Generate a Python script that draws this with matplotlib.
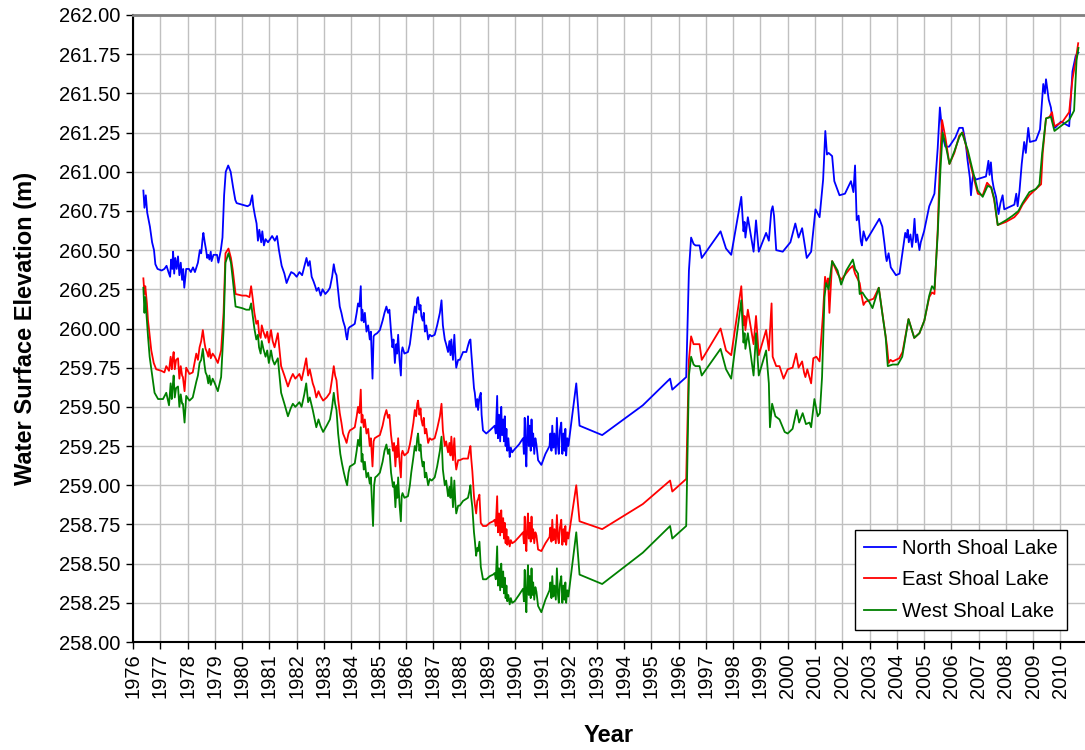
import matplotlib
matplotlib.use("Agg")
import matplotlib.pyplot as plt
from matplotlib.ticker import FixedLocator, FormatStrFormatter

plt.rcParams['font.family'] = ['Liberation Sans', 'DejaVu Sans']

series_names = ["North Shoal Lake", "East Shoal Lake", "West Shoal Lake"]
series_colors = ["#0000FF", "#FF0000", "#008000"]

north = [
(1976.38, 260.88), (1976.42, 260.77), (1976.47, 260.85), (1976.52, 260.74), (1976.62, 260.65), (1976.70, 260.55), (1976.77, 260.50), (1976.82, 260.41), (1976.90, 260.38), (1977.05, 260.37), (1977.15, 260.38), (1977.23, 260.40), (1977.30, 260.36), (1977.36, 260.33), (1977.40, 260.44), (1977.44, 260.38), (1977.47, 260.49), (1977.51, 260.35), (1977.55, 260.45), (1977.60, 260.38), (1977.65, 260.46), (1977.70, 260.34), (1977.75, 260.42), (1977.80, 260.31), (1977.84, 260.38), (1977.88, 260.26), (1977.95, 260.38), (1978.05, 260.38), (1978.12, 260.36), (1978.20, 260.39), (1978.27, 260.36), (1978.38, 260.42), (1978.45, 260.50), (1978.50, 260.48), (1978.55, 260.57), (1978.58, 260.61), (1978.63, 260.55), (1978.68, 260.50), (1978.72, 260.45), (1978.76, 260.47), (1978.80, 260.44), (1978.85, 260.49), (1978.88, 260.43), (1978.95, 260.47), (1979.08, 260.47), (1979.13, 260.42), (1979.22, 260.50), (1979.28, 260.58), (1979.34, 260.85), (1979.40, 261.00), (1979.49, 261.04), (1979.58, 261.00), (1979.67, 260.90), (1979.75, 260.82), (1979.80, 260.80), (1980.00, 260.79), (1980.20, 260.78), (1980.29, 260.79), (1980.37, 260.85), (1980.41, 260.78), (1980.47, 260.72), (1980.53, 260.67), (1980.58, 260.56), (1980.63, 260.63), (1980.70, 260.55), (1980.74, 260.62), (1980.80, 260.53), (1980.86, 260.57), (1980.95, 260.55), (1981.10, 260.59), (1981.20, 260.56), (1981.28, 260.59), (1981.35, 260.50), (1981.45, 260.40), (1981.55, 260.35), (1981.63, 260.29), (1981.72, 260.33), (1981.80, 260.36), (1981.90, 260.35), (1982.00, 260.33), (1982.10, 260.36), (1982.20, 260.34), (1982.30, 260.41), (1982.36, 260.45), (1982.42, 260.40), (1982.48, 260.43), (1982.55, 260.33), (1982.62, 260.30), (1982.68, 260.27), (1982.73, 260.24), (1982.80, 260.26), (1982.88, 260.21), (1982.95, 260.25), (1983.05, 260.22), (1983.15, 260.24), (1983.22, 260.26), (1983.30, 260.33), (1983.36, 260.41), (1983.41, 260.36), (1983.46, 260.34), (1983.52, 260.24), (1983.58, 260.14), (1983.64, 260.10), (1983.70, 260.05), (1983.77, 260.01), (1983.82, 259.95), (1983.85, 259.93), (1983.90, 260.00), (1983.95, 260.01), (1984.05, 260.02), (1984.13, 260.03), (1984.20, 260.10), (1984.25, 260.16), (1984.30, 260.14), (1984.35, 260.27), (1984.38, 260.05), (1984.41, 260.12), (1984.46, 260.04), (1984.50, 260.10), (1984.56, 259.98), (1984.62, 260.02), (1984.68, 259.93), (1984.72, 259.98), (1984.78, 259.68), (1984.82, 259.95), (1984.86, 259.96), (1984.95, 259.97), (1985.05, 259.99), (1985.15, 260.05), (1985.22, 260.10), (1985.29, 260.14), (1985.35, 260.10), (1985.40, 260.12), (1985.46, 259.98), (1985.51, 259.88), (1985.55, 259.93), (1985.60, 259.78), (1985.65, 259.90), (1985.68, 259.84), (1985.72, 259.96), (1985.77, 259.80), (1985.82, 259.70), (1985.85, 259.85), (1985.88, 259.88), (1985.95, 259.84), (1986.08, 259.85), (1986.15, 259.90), (1986.22, 260.00), (1986.28, 260.08), (1986.33, 260.14), (1986.38, 260.10), (1986.42, 260.19), (1986.45, 260.20), (1986.50, 260.12), (1986.54, 260.15), (1986.57, 260.08), (1986.62, 260.05), (1986.66, 260.10), (1986.70, 259.98), (1986.75, 260.02), (1986.80, 259.96), (1986.82, 259.93), (1986.88, 259.96), (1986.95, 259.95), (1987.06, 259.96), (1987.15, 260.02), (1987.25, 260.10), (1987.31, 260.18), (1987.36, 260.02), (1987.43, 259.93), (1987.48, 259.90), (1987.55, 259.85), (1987.60, 259.92), (1987.64, 259.83), (1987.67, 259.93), (1987.73, 259.80), (1987.78, 259.96), (1987.82, 259.82), (1987.85, 259.75), (1987.92, 259.80), (1987.98, 259.80), (1988.10, 259.85), (1988.22, 259.85), (1988.28, 259.89), (1988.33, 259.92), (1988.37, 259.93), (1988.40, 259.85), (1988.44, 259.76), (1988.50, 259.62), (1988.53, 259.59), (1988.58, 259.50), (1988.62, 259.55), (1988.65, 259.48), (1988.70, 259.56), (1988.75, 259.59), (1988.78, 259.45), (1988.83, 259.35), (1988.95, 259.33), (1989.08, 259.35), (1989.20, 259.37), (1989.26, 259.38), (1989.30, 259.33), (1989.35, 259.57), (1989.38, 259.30), (1989.42, 259.45), (1989.46, 259.28), (1989.50, 259.50), (1989.53, 259.32), (1989.57, 259.42), (1989.60, 259.28), (1989.63, 259.44), (1989.66, 259.25), (1989.69, 259.36), (1989.72, 259.22), (1989.76, 259.30), (1989.81, 259.18), (1989.85, 259.24), (1989.90, 259.21), (1989.99, 259.23), (1990.15, 259.26), (1990.30, 259.30), (1990.33, 259.20), (1990.36, 259.43), (1990.39, 259.22), (1990.42, 259.12), (1990.45, 259.35), (1990.48, 259.44), (1990.51, 259.25), (1990.54, 259.38), (1990.58, 259.22), (1990.61, 259.42), (1990.64, 259.25), (1990.67, 259.33), (1990.71, 259.20), (1990.75, 259.30), (1990.79, 259.26), (1990.85, 259.16), (1990.97, 259.13), (1991.12, 259.20), (1991.27, 259.25), (1991.30, 259.33), (1991.34, 259.22), (1991.37, 259.38), (1991.41, 259.24), (1991.45, 259.33), (1991.50, 259.20), (1991.54, 259.43), (1991.58, 259.25), (1991.61, 259.20), (1991.65, 259.35), (1991.70, 259.40), (1991.74, 259.20), (1991.78, 259.33), (1991.82, 259.22), (1991.85, 259.36), (1991.88, 259.19), (1991.92, 259.30), (1991.96, 259.25), (1992.25, 259.65), (1992.37, 259.38), (1993.20, 259.32), (1994.69, 259.51), (1995.69, 259.68), (1995.77, 259.61), (1996.28, 259.69), (1996.38, 260.37), (1996.46, 260.58), (1996.55, 260.54), (1996.62, 260.53), (1996.77, 260.53), (1996.85, 260.45), (1997.54, 260.62), (1997.74, 260.51), (1997.93, 260.47), (1998.30, 260.84), (1998.38, 260.62), (1998.42, 260.68), (1998.45, 260.58), (1998.54, 260.71), (1998.75, 260.49), (1998.84, 260.69), (1998.94, 260.49), (1999.21, 260.61), (1999.31, 260.56), (1999.40, 260.75), (1999.45, 260.78), (1999.50, 260.72), (1999.58, 260.50), (1999.82, 260.49), (2000.10, 260.55), (2000.28, 260.67), (2000.40, 260.58), (2000.53, 260.64), (2000.70, 260.45), (2000.86, 260.49), (2001.02, 260.76), (2001.17, 260.71), (2001.30, 260.95), (2001.38, 261.26), (2001.44, 261.11), (2001.50, 261.12), (2001.63, 261.10), (2001.71, 260.94), (2001.90, 260.85), (2002.10, 260.86), (2002.32, 260.94), (2002.41, 260.87), (2002.47, 261.04), (2002.53, 260.69), (2002.60, 260.72), (2002.68, 260.56), (2002.72, 260.53), (2002.78, 260.62), (2002.88, 260.56), (2003.36, 260.70), (2003.47, 260.65), (2003.55, 260.54), (2003.60, 260.46), (2003.63, 260.43), (2003.70, 260.48), (2003.78, 260.39), (2003.97, 260.34), (2004.10, 260.35), (2004.31, 260.61), (2004.36, 260.58), (2004.40, 260.63), (2004.44, 260.55), (2004.50, 260.60), (2004.56, 260.52), (2004.60, 260.58), (2004.65, 260.70), (2004.70, 260.55), (2004.75, 260.60), (2004.83, 260.50), (2004.88, 260.55), (2005.00, 260.62), (2005.19, 260.78), (2005.38, 260.86), (2005.50, 261.15), (2005.58, 261.41), (2005.68, 261.23), (2005.78, 261.16), (2005.92, 261.16), (2006.15, 261.22), (2006.29, 261.28), (2006.42, 261.28), (2006.53, 261.18), (2006.59, 261.08), (2006.68, 260.96), (2006.72, 260.85), (2006.76, 260.93), (2006.80, 260.98), (2006.90, 260.95), (2007.27, 260.97), (2007.36, 261.07), (2007.40, 260.98), (2007.45, 261.06), (2007.50, 260.95), (2007.55, 260.90), (2007.64, 260.84), (2007.73, 260.73), (2007.80, 260.80), (2007.88, 260.85), (2007.94, 260.76), (2008.31, 260.79), (2008.38, 260.86), (2008.43, 260.78), (2008.50, 260.88), (2008.58, 261.05), (2008.67, 261.19), (2008.73, 261.12), (2008.82, 261.28), (2008.88, 261.19), (2009.10, 261.20), (2009.25, 261.27), (2009.37, 261.56), (2009.43, 261.50), (2009.47, 261.59), (2009.57, 261.46), (2009.65, 261.41), (2009.71, 261.33), (2009.80, 261.28), (2010.02, 261.32), (2010.32, 261.29), (2010.44, 261.64), (2010.56, 261.74), (2010.66, 261.76),
]

east = [
(1976.38, 260.32), (1976.42, 260.22), (1976.45, 260.27), (1976.51, 260.16), (1976.55, 260.05), (1976.59, 259.99), (1976.67, 259.86), (1976.76, 259.78), (1976.85, 259.74), (1977.04, 259.73), (1977.15, 259.72), (1977.22, 259.76), (1977.32, 259.73), (1977.38, 259.82), (1977.42, 259.74), (1977.45, 259.80), (1977.49, 259.85), (1977.53, 259.74), (1977.58, 259.80), (1977.65, 259.81), (1977.70, 259.68), (1977.75, 259.76), (1977.80, 259.70), (1977.83, 259.69), (1977.89, 259.60), (1977.95, 259.75), (1978.07, 259.71), (1978.19, 259.72), (1978.32, 259.84), (1978.38, 259.80), (1978.44, 259.88), (1978.50, 259.92), (1978.56, 259.99), (1978.62, 259.91), (1978.66, 259.87), (1978.71, 259.85), (1978.76, 259.82), (1978.80, 259.87), (1978.85, 259.81), (1978.92, 259.84), (1979.00, 259.82), (1979.11, 259.78), (1979.23, 259.86), (1979.32, 260.10), (1979.39, 260.48), (1979.50, 260.51), (1979.59, 260.45), (1979.66, 260.37), (1979.76, 260.22), (1980.00, 260.21), (1980.15, 260.21), (1980.27, 260.20), (1980.33, 260.27), (1980.39, 260.19), (1980.45, 260.10), (1980.52, 260.03), (1980.58, 260.05), (1980.62, 259.97), (1980.68, 259.94), (1980.72, 260.02), (1980.78, 259.98), (1980.86, 259.94), (1980.92, 259.98), (1980.98, 259.91), (1981.06, 259.99), (1981.12, 259.92), (1981.19, 259.88), (1981.31, 259.97), (1981.43, 259.76), (1981.55, 259.70), (1981.68, 259.63), (1981.78, 259.68), (1981.86, 259.71), (1981.95, 259.68), (1982.10, 259.71), (1982.18, 259.67), (1982.28, 259.75), (1982.35, 259.81), (1982.42, 259.70), (1982.48, 259.74), (1982.59, 259.65), (1982.65, 259.62), (1982.72, 259.56), (1982.80, 259.60), (1982.87, 259.57), (1982.97, 259.54), (1983.10, 259.56), (1983.22, 259.59), (1983.30, 259.68), (1983.36, 259.76), (1983.41, 259.70), (1983.46, 259.67), (1983.52, 259.55), (1983.58, 259.46), (1983.64, 259.40), (1983.70, 259.33), (1983.77, 259.30), (1983.83, 259.27), (1983.90, 259.33), (1983.95, 259.35), (1984.05, 259.36), (1984.13, 259.37), (1984.20, 259.44), (1984.25, 259.50), (1984.30, 259.46), (1984.35, 259.61), (1984.38, 259.40), (1984.41, 259.45), (1984.46, 259.37), (1984.50, 259.42), (1984.56, 259.33), (1984.62, 259.36), (1984.68, 259.25), (1984.72, 259.30), (1984.78, 259.12), (1984.82, 259.28), (1984.86, 259.30), (1984.95, 259.31), (1985.05, 259.32), (1985.15, 259.38), (1985.22, 259.44), (1985.29, 259.48), (1985.35, 259.43), (1985.40, 259.45), (1985.46, 259.32), (1985.53, 259.22), (1985.57, 259.27), (1985.62, 259.12), (1985.66, 259.25), (1985.69, 259.18), (1985.72, 259.30), (1985.77, 259.15), (1985.82, 259.05), (1985.85, 259.20), (1985.88, 259.22), (1985.95, 259.19), (1986.08, 259.21), (1986.15, 259.26), (1986.20, 259.31), (1986.28, 259.40), (1986.33, 259.48), (1986.38, 259.44), (1986.42, 259.52), (1986.45, 259.54), (1986.50, 259.45), (1986.54, 259.49), (1986.57, 259.42), (1986.62, 259.38), (1986.66, 259.43), (1986.70, 259.33), (1986.75, 259.36), (1986.82, 259.27), (1986.88, 259.30), (1986.95, 259.29), (1987.06, 259.30), (1987.15, 259.36), (1987.25, 259.44), (1987.31, 259.52), (1987.36, 259.35), (1987.43, 259.25), (1987.48, 259.28), (1987.55, 259.21), (1987.60, 259.27), (1987.64, 259.19), (1987.67, 259.31), (1987.73, 259.16), (1987.78, 259.30), (1987.82, 259.15), (1987.85, 259.10), (1987.92, 259.16), (1987.98, 259.16), (1988.10, 259.17), (1988.28, 259.17), (1988.33, 259.22), (1988.37, 259.25), (1988.40, 259.17), (1988.44, 259.09), (1988.50, 258.93), (1988.53, 258.88), (1988.58, 258.82), (1988.62, 258.90), (1988.65, 258.91), (1988.70, 258.94), (1988.75, 258.76), (1988.83, 258.74), (1988.95, 258.74), (1989.08, 258.76), (1989.20, 258.77), (1989.26, 258.78), (1989.30, 258.74), (1989.35, 258.93), (1989.38, 258.70), (1989.42, 258.82), (1989.46, 258.68), (1989.50, 258.84), (1989.53, 258.70), (1989.57, 258.79), (1989.60, 258.66), (1989.63, 258.76), (1989.66, 258.63), (1989.69, 258.72), (1989.72, 258.62), (1989.76, 258.67), (1989.81, 258.61), (1989.85, 258.65), (1989.90, 258.63), (1989.99, 258.64), (1990.15, 258.67), (1990.30, 258.70), (1990.33, 258.63), (1990.36, 258.80), (1990.39, 258.64), (1990.42, 258.58), (1990.45, 258.74), (1990.48, 258.82), (1990.51, 258.66), (1990.54, 258.76), (1990.58, 258.64), (1990.61, 258.80), (1990.64, 258.66), (1990.67, 258.72), (1990.71, 258.63), (1990.75, 258.70), (1990.79, 258.68), (1990.85, 258.59), (1990.97, 258.58), (1991.12, 258.63), (1991.27, 258.67), (1991.30, 258.73), (1991.34, 258.64), (1991.37, 258.78), (1991.41, 258.65), (1991.45, 258.72), (1991.50, 258.63), (1991.54, 258.81), (1991.58, 258.66), (1991.61, 258.63), (1991.65, 258.73), (1991.70, 258.78), (1991.74, 258.62), (1991.78, 258.72), (1991.82, 258.64), (1991.85, 258.74), (1991.88, 258.62), (1991.92, 258.70), (1991.96, 258.66), (1992.25, 259.00), (1992.37, 258.77), (1993.20, 258.72), (1994.69, 258.88), (1995.69, 259.03), (1995.77, 258.96), (1996.28, 259.04), (1996.38, 259.80), (1996.46, 259.95), (1996.55, 259.90), (1996.62, 259.90), (1996.77, 259.90), (1996.85, 259.80), (1997.54, 260.00), (1997.74, 259.86), (1997.93, 259.83), (1998.30, 260.27), (1998.38, 260.02), (1998.42, 260.08), (1998.45, 259.99), (1998.54, 260.12), (1998.75, 259.90), (1998.84, 260.08), (1998.94, 259.83), (1999.21, 259.99), (1999.31, 259.86), (1999.41, 260.16), (1999.45, 259.82), (1999.58, 259.76), (1999.70, 259.76), (1999.85, 259.68), (2000.00, 259.74), (2000.18, 259.75), (2000.31, 259.84), (2000.40, 259.75), (2000.53, 259.79), (2000.60, 259.72), (2000.65, 259.69), (2000.72, 259.74), (2000.86, 259.65), (2000.94, 259.81), (2001.05, 259.82), (2001.17, 259.79), (2001.29, 260.08), (2001.37, 260.33), (2001.44, 260.27), (2001.48, 260.32), (2001.53, 260.10), (2001.63, 260.43), (2001.83, 260.35), (2001.96, 260.31), (2002.27, 260.38), (2002.39, 260.40), (2002.47, 260.35), (2002.64, 260.29), (2002.70, 260.22), (2002.78, 260.15), (2002.85, 260.17), (2002.99, 260.18), (2003.15, 260.19), (2003.34, 260.26), (2003.47, 260.10), (2003.55, 260.00), (2003.64, 259.89), (2003.70, 259.78), (2003.77, 259.80), (2003.85, 259.79), (2004.09, 259.81), (2004.21, 259.85), (2004.43, 260.06), (2004.64, 259.94), (2004.83, 259.97), (2005.01, 260.05), (2005.19, 260.20), (2005.29, 260.23), (2005.38, 260.22), (2005.50, 260.63), (2005.57, 261.01), (2005.66, 261.33), (2005.78, 261.22), (2005.93, 261.05), (2006.11, 261.12), (2006.29, 261.23), (2006.42, 261.25), (2006.60, 261.12), (2006.78, 260.99), (2006.97, 260.86), (2007.15, 260.85), (2007.31, 260.93), (2007.46, 260.90), (2007.57, 260.82), (2007.70, 260.66), (2008.00, 260.68), (2008.31, 260.71), (2008.46, 260.74), (2008.61, 260.79), (2008.86, 260.85), (2009.10, 260.89), (2009.29, 260.92), (2009.35, 261.12), (2009.47, 261.34), (2009.60, 261.35), (2009.69, 261.38), (2009.78, 261.29), (2010.08, 261.32), (2010.32, 261.38), (2010.44, 261.59), (2010.56, 261.71), (2010.65, 261.82),
]

west = [
(1976.38, 260.26), (1976.42, 260.10), (1976.45, 260.20), (1976.49, 260.10), (1976.55, 259.95), (1976.61, 259.82), (1976.71, 259.69), (1976.79, 259.59), (1976.92, 259.55), (1977.10, 259.55), (1977.22, 259.59), (1977.32, 259.51), (1977.38, 259.65), (1977.42, 259.55), (1977.45, 259.62), (1977.49, 259.70), (1977.53, 259.56), (1977.58, 259.62), (1977.65, 259.63), (1977.70, 259.50), (1977.75, 259.58), (1977.80, 259.52), (1977.83, 259.52), (1977.89, 259.40), (1977.95, 259.57), (1978.07, 259.54), (1978.19, 259.56), (1978.32, 259.66), (1978.38, 259.70), (1978.44, 259.78), (1978.50, 259.80), (1978.56, 259.87), (1978.62, 259.77), (1978.66, 259.72), (1978.71, 259.70), (1978.76, 259.65), (1978.80, 259.70), (1978.85, 259.64), (1978.92, 259.68), (1979.00, 259.65), (1979.11, 259.60), (1979.23, 259.69), (1979.32, 259.99), (1979.39, 260.42), (1979.50, 260.48), (1979.59, 260.42), (1979.66, 260.31), (1979.76, 260.14), (1980.00, 260.13), (1980.15, 260.12), (1980.27, 260.12), (1980.33, 260.16), (1980.39, 260.08), (1980.45, 260.00), (1980.52, 259.93), (1980.58, 259.96), (1980.62, 259.88), (1980.68, 259.84), (1980.72, 259.92), (1980.78, 259.87), (1980.86, 259.82), (1980.92, 259.86), (1980.98, 259.78), (1981.06, 259.86), (1981.12, 259.80), (1981.19, 259.77), (1981.31, 259.81), (1981.43, 259.59), (1981.55, 259.52), (1981.68, 259.44), (1981.78, 259.49), (1981.86, 259.52), (1981.95, 259.50), (1982.10, 259.53), (1982.18, 259.50), (1982.28, 259.58), (1982.35, 259.65), (1982.42, 259.53), (1982.48, 259.56), (1982.59, 259.48), (1982.65, 259.43), (1982.72, 259.37), (1982.80, 259.42), (1982.87, 259.38), (1982.97, 259.34), (1983.10, 259.38), (1983.22, 259.42), (1983.30, 259.50), (1983.36, 259.59), (1983.41, 259.52), (1983.46, 259.48), (1983.52, 259.33), (1983.60, 259.20), (1983.66, 259.14), (1983.73, 259.08), (1983.80, 259.03), (1983.85, 259.00), (1983.90, 259.08), (1983.95, 259.12), (1984.05, 259.13), (1984.13, 259.14), (1984.20, 259.22), (1984.25, 259.29), (1984.30, 259.25), (1984.35, 259.37), (1984.38, 259.15), (1984.41, 259.20), (1984.46, 259.10), (1984.50, 259.15), (1984.56, 259.05), (1984.62, 259.08), (1984.68, 259.01), (1984.72, 259.05), (1984.80, 258.74), (1984.84, 259.00), (1984.88, 259.05), (1984.95, 259.06), (1985.05, 259.08), (1985.15, 259.15), (1985.22, 259.22), (1985.29, 259.26), (1985.35, 259.20), (1985.40, 259.23), (1985.46, 259.08), (1985.53, 258.99), (1985.57, 259.02), (1985.62, 258.86), (1985.66, 259.00), (1985.69, 258.92), (1985.72, 259.05), (1985.77, 258.88), (1985.82, 258.77), (1985.85, 258.93), (1985.88, 258.95), (1985.95, 258.92), (1986.08, 258.93), (1986.15, 259.00), (1986.20, 259.08), (1986.28, 259.18), (1986.33, 259.25), (1986.38, 259.22), (1986.42, 259.30), (1986.45, 259.33), (1986.50, 259.22), (1986.54, 259.26), (1986.57, 259.18), (1986.62, 259.12), (1986.66, 259.15), (1986.70, 259.05), (1986.75, 259.08), (1986.82, 259.00), (1986.88, 259.04), (1986.95, 259.03), (1987.06, 259.05), (1987.15, 259.12), (1987.25, 259.22), (1987.31, 259.31), (1987.36, 259.10), (1987.43, 259.00), (1987.48, 259.03), (1987.55, 258.93), (1987.60, 258.99), (1987.64, 258.92), (1987.67, 259.05), (1987.73, 258.86), (1987.78, 259.03), (1987.82, 258.88), (1987.85, 258.82), (1987.92, 258.87), (1987.98, 258.87), (1988.10, 258.90), (1988.28, 258.92), (1988.33, 258.96), (1988.37, 259.00), (1988.40, 258.92), (1988.44, 258.86), (1988.50, 258.70), (1988.53, 258.65), (1988.58, 258.55), (1988.62, 258.60), (1988.65, 258.58), (1988.70, 258.64), (1988.75, 258.48), (1988.83, 258.40), (1988.95, 258.40), (1989.08, 258.42), (1989.20, 258.43), (1989.26, 258.44), (1989.30, 258.40), (1989.35, 258.61), (1989.38, 258.36), (1989.42, 258.47), (1989.46, 258.33), (1989.50, 258.50), (1989.53, 258.35), (1989.57, 258.45), (1989.60, 258.31), (1989.63, 258.41), (1989.66, 258.28), (1989.69, 258.36), (1989.72, 258.26), (1989.76, 258.30), (1989.81, 258.24), (1989.85, 258.28), (1989.90, 258.25), (1989.99, 258.26), (1990.15, 258.30), (1990.30, 258.34), (1990.33, 258.26), (1990.36, 258.46), (1990.39, 258.28), (1990.42, 258.19), (1990.45, 258.38), (1990.48, 258.49), (1990.51, 258.30), (1990.54, 258.42), (1990.58, 258.28), (1990.61, 258.47), (1990.64, 258.30), (1990.67, 258.38), (1990.71, 258.27), (1990.75, 258.35), (1990.79, 258.32), (1990.85, 258.23), (1990.97, 258.19), (1991.12, 258.27), (1991.27, 258.33), (1991.30, 258.38), (1991.34, 258.28), (1991.37, 258.42), (1991.41, 258.29), (1991.45, 258.36), (1991.50, 258.27), (1991.54, 258.47), (1991.58, 258.30), (1991.61, 258.25), (1991.65, 258.37), (1991.70, 258.42), (1991.74, 258.25), (1991.78, 258.36), (1991.82, 258.27), (1991.85, 258.38), (1991.88, 258.25), (1991.92, 258.33), (1991.96, 258.29), (1992.25, 258.70), (1992.37, 258.43), (1993.20, 258.37), (1994.69, 258.57), (1995.69, 258.74), (1995.77, 258.66), (1996.28, 258.74), (1996.38, 259.70), (1996.46, 259.82), (1996.55, 259.77), (1996.62, 259.76), (1996.77, 259.76), (1996.85, 259.70), (1997.54, 259.87), (1997.74, 259.74), (1997.93, 259.68), (1998.30, 260.18), (1998.38, 259.91), (1998.42, 259.97), (1998.45, 259.87), (1998.54, 259.97), (1998.75, 259.70), (1998.84, 259.97), (1998.94, 259.70), (1999.21, 259.86), (1999.31, 259.65), (1999.35, 259.37), (1999.43, 259.52), (1999.55, 259.44), (1999.70, 259.42), (1999.89, 259.34), (2000.00, 259.33), (2000.18, 259.36), (2000.33, 259.48), (2000.42, 259.40), (2000.55, 259.46), (2000.67, 259.39), (2000.80, 259.40), (2000.86, 259.37), (2000.98, 259.55), (2001.10, 259.44), (2001.18, 259.46), (2001.26, 259.69), (2001.35, 260.20), (2001.41, 260.29), (2001.50, 260.25), (2001.63, 260.43), (2001.83, 260.37), (2001.96, 260.28), (2002.15, 260.37), (2002.39, 260.44), (2002.47, 260.38), (2002.58, 260.35), (2002.64, 260.22), (2002.74, 260.23), (2002.85, 260.20), (2002.99, 260.17), (2003.11, 260.13), (2003.34, 260.26), (2003.49, 260.07), (2003.59, 259.95), (2003.67, 259.76), (2003.85, 259.77), (2004.04, 259.77), (2004.20, 259.82), (2004.43, 260.06), (2004.64, 259.94), (2004.83, 259.97), (2005.01, 260.05), (2005.19, 260.21), (2005.29, 260.27), (2005.38, 260.25), (2005.50, 260.60), (2005.60, 261.01), (2005.68, 261.25), (2005.78, 261.18), (2005.93, 261.05), (2006.11, 261.13), (2006.29, 261.22), (2006.39, 261.25), (2006.60, 261.14), (2006.78, 261.01), (2006.97, 260.88), (2007.15, 260.84), (2007.33, 260.91), (2007.46, 260.90), (2007.57, 260.83), (2007.70, 260.66), (2008.00, 260.69), (2008.25, 260.72), (2008.46, 260.75), (2008.61, 260.80), (2008.86, 260.87), (2009.10, 260.89), (2009.23, 260.92), (2009.33, 261.12), (2009.47, 261.34), (2009.65, 261.35), (2009.78, 261.26), (2010.08, 261.30), (2010.32, 261.33), (2010.50, 261.39), (2010.59, 261.71), (2010.66, 261.79),
]

year_ticks = list(range(1976, 2011))
elev_ticks = [258.00 + 0.25 * i for i in range(17)]

fig = plt.figure(figsize=(10.85, 7.5), dpi=100)
ax = fig.add_axes([133 / 1085, 1 - 642 / 750, 1 - 133 / 1085, (642 - 15) / 750])

for data, name, col in zip([north, east, west], series_names, series_colors):
    xs = [p[0] for p in data]
    ys = [p[1] for p in data]
    ax.plot(xs, ys, color=col, lw=1.3, label=name, solid_joinstyle='round')

ax.set_xlim(1976, 2010.9)
ax.set_ylim(258, 262)
ax.xaxis.set_major_locator(FixedLocator(year_ticks))
ax.set_xticklabels([str(y) for y in year_ticks], rotation=90)
ax.yaxis.set_major_locator(FixedLocator(elev_ticks))
ax.yaxis.set_major_formatter(FormatStrFormatter('%.2f'))
ax.grid(True, color='#C0C0C0', lw=1.0)
ax.set_axisbelow(True)

ax.tick_params(axis='both', direction='out', length=5, width=1, color='black',
               labelsize=14.5, labelcolor='black')
ax.tick_params(axis='x', pad=3)
ax.tick_params(axis='y', pad=4)

for s in ['left', 'bottom']:
    ax.spines[s].set_color('black')
    ax.spines[s].set_linewidth(1.5)
ax.spines['top'].set_color('#808080')
ax.spines['top'].set_linewidth(2)
ax.spines['right'].set_visible(False)

ax.set_ylabel('Water Surface Elevation (m)', fontsize=17, fontweight='bold', labelpad=16)
ax.set_xlabel('Year', fontsize=17, fontweight='bold', labelpad=19)

leg = ax.legend(loc='lower right', bbox_to_anchor=(1067 / 1085, (750 - 630) / 750),
                bbox_transform=fig.transFigure, fontsize=14.5, frameon=True,
                fancybox=False, edgecolor='black', framealpha=1, borderpad=0.45,
                borderaxespad=0, labelspacing=0.62, handlelength=1.6, handletextpad=0.3)
leg.get_frame().set_linewidth(1.0)

fig.savefig('out.png', dpi=100)
